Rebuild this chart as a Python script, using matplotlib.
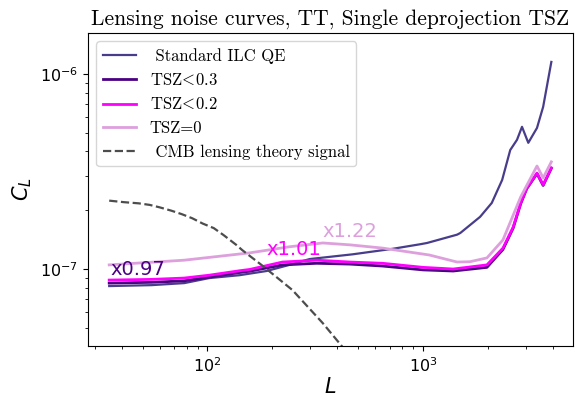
import matplotlib
matplotlib.use("Agg")
import matplotlib.pyplot as plt
from matplotlib.font_manager import FontProperties

# ---- data ----
L_ilc = [35, 55, 78, 102, 141, 188, 240, 298, 473, 725, 972, 1045, 1440, 1490, 1840, 2085, 2330, 2540, 2730, 2880, 3080, 3380, 3610, 3940]
C_ilc = [8.18e-8, 8.27e-8, 8.47e-8, 8.99e-8, 9.3e-8, 9.77e-8, 1.05e-7, 1.125e-7, 1.19e-7, 1.27e-7, 1.34e-7, 1.36e-7, 1.5e-7, 1.53e-7, 1.85e-7, 2.18e-7, 2.86e-7, 4.07e-7, 4.59e-7, 5.35e-7, 4.43e-7, 5.28e-7, 6.77e-7, 1.15e-6]

L_tsz = [35, 55, 78, 102, 141, 157, 223, 321, 458, 650, 1000, 1380, 1980, 2350, 2620, 2840, 3030, 3380, 3610, 3940]
C_tsz03 = [8.47e-8, 8.55e-8, 8.7e-8, 9.1e-8, 9.6e-8, 9.75e-8, 1.05e-7, 1.07e-7, 1.06e-7, 1.036e-7, 9.9e-8, 9.77e-8, 1.02e-7, 1.26e-7, 1.62e-7, 2.16e-7, 2.58e-7, 3.08e-7, 2.68e-7, 3.28e-7]
C_tsz02 = [8.78e-8, 8.85e-8, 8.99e-8, 9.3e-8, 9.8e-8, 9.95e-8, 1.086e-7, 1.11e-7, 1.086e-7, 1.07e-7, 1.02e-7, 1.0e-7, 1.05e-7, 1.28e-7, 1.64e-7, 2.18e-7, 2.6e-7, 3.1e-7, 2.7e-7, 3.3e-7]

L_tsz0 = [35, 78, 157, 240, 343, 458, 650, 1070, 1440, 1650, 1980, 2350, 2840, 3380, 3610, 3940]
C_tsz0 = [1.05e-7, 1.11e-7, 1.21e-7, 1.30e-7, 1.36e-7, 1.33e-7, 1.28e-7, 1.18e-7, 1.086e-7, 1.09e-7, 1.14e-7, 1.41e-7, 2.34e-7, 3.37e-7, 2.93e-7, 3.54e-7]

L_th = [35, 41, 48, 54, 60, 68, 76, 85, 95, 107, 119, 136, 145, 180, 248, 343, 420, 550, 700]
C_th = [2.24e-7, 2.2e-7, 2.17e-7, 2.13e-7, 2.07e-7, 1.99e-7, 1.91e-7, 1.82e-7, 1.71e-7, 1.62e-7, 1.49e-7, 1.33e-7, 1.25e-7, 1.04e-7, 7.8e-8, 5.28e-8, 4.03e-8, 2.8e-8, 1.9e-8]

labels = [" Standard ILC QE", r"TSZ$\!<\!$0.3", r"TSZ$\!<\!$0.2", "TSZ=0", " CMB lensing theory signal"]
ann_text = ["x0.97", "x1.01", "x1.22"]
ann_L = [35.5, 188, 343]
ann_C = [9.3e-8, 1.18e-7, 1.46e-7]

fig = plt.figure(figsize=(5.75, 3.96), dpi=100)
ax = fig.add_axes([0.153, 0.126, 0.843, 0.791])

ax.plot(L_ilc, C_ilc, color="#483D8B", lw=1.6, label=labels[0])
ax.plot(L_tsz, C_tsz03, color="#4B0082", lw=2.0, label=labels[1])
ax.plot(L_tsz, C_tsz02, color="#FF00FF", lw=2.0, label=labels[2])
ax.plot(L_tsz0, C_tsz0, color="#DDA0DD", lw=2.0, label=labels[3])
ax.plot(L_th, C_th, color="#4d4d4d", lw=1.6, ls="--", label=labels[4])

ax.set_xscale("log")
ax.set_yscale("log")
ax.set_xlim(27.9, 4950)
ax.set_ylim(4.03e-8, 1.62e-6)

ann_colors = ["#4B0082", "#FF00FF", "#DDA0DD"]
for t, x, y, c in zip(ann_text, ann_L, ann_C, ann_colors):
    ax.text(x, y, t, color=c, fontsize=14, ha="left", va="baseline")

ax.set_xlabel("$L$", fontsize=15, labelpad=2)
ax.set_ylabel("$C_L$", fontsize=15)
ax.tick_params(labelsize=11.5)

ax.set_title("Lensing noise curves, TT, Single deprojection TSZ", fontfamily="cmr10", fontsize=15.5)

prop = FontProperties(family="cmr10", size=12, math_fontfamily="cm")
ax.legend(loc="upper left", prop=prop)

fig.savefig("out.png", dpi=100)
